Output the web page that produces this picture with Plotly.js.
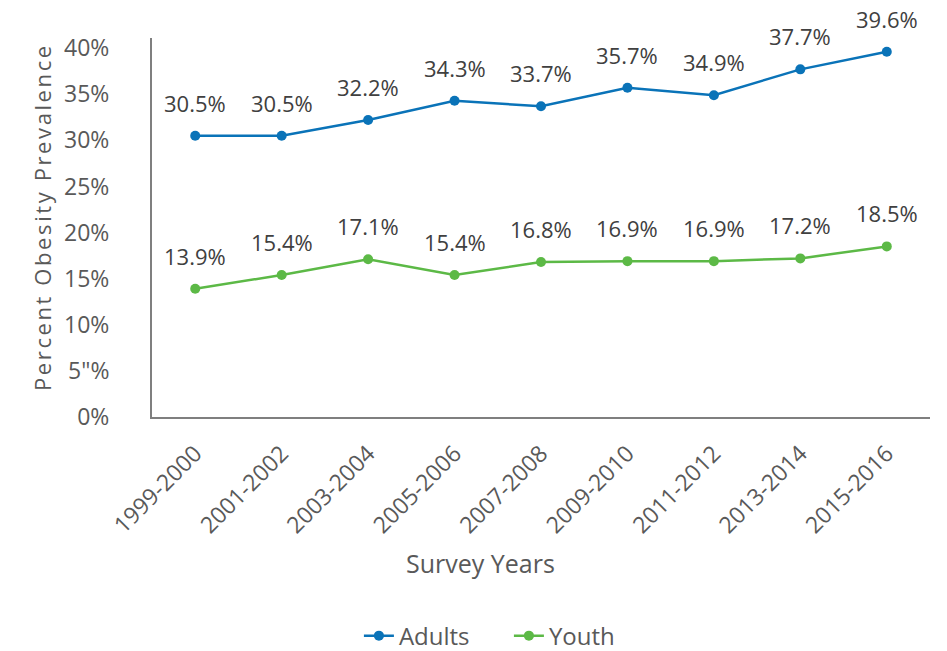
<!DOCTYPE html>
<html>
<head>
<meta charset="utf-8">
<script src="https://cdn.plot.ly/plotly-3.0.1.min.js"></script>
<style>html,body{margin:0;padding:0;background:#fff;}#chart{width:947px;height:651px;}</style>
</head>
<body>
<div id="chart"></div>
<script>
const categories = ["1999-2000","2001-2002","2003-2004","2005-2006","2007-2008","2009-2010","2011-2012","2013-2014","2015-2016"];
const adults = [30.5, 30.5, 32.2, 34.3, 33.7, 35.7, 34.9, 37.7, 39.6];
const youth = [13.9, 15.4, 17.1, 15.4, 16.8, 16.9, 16.9, 17.2, 18.5];
const yTickVals = [0, 5, 10, 15, 20, 25, 30, 35, 40];
const yTickText = ["0%", "5\"%", "10%", "15%", "20%", "25%", "30%", "35%", "40%"];
const xTitle = "Survey Years";
const yTitle = "Percent Obesity Prevalence";

const FONT = "Open Sans, Liberation Sans, sans-serif";
const GRAY = "#595959";
const BLUE = "#0A73B8";
const GREEN = "#5CB946";

const traces = [
  {x: categories, y: adults, name: "Adults", type: "scatter", mode: "lines+markers",
   line: {color: BLUE, width: 2.5}, marker: {color: BLUE, size: 10}},
  {x: categories, y: youth, name: "Youth", type: "scatter", mode: "lines+markers",
   line: {color: GREEN, width: 2.5}, marker: {color: GREEN, size: 10}}
];

const annotations = [];
[adults, youth].forEach(arr => {
  arr.forEach((v, i) => {
    annotations.push({x: categories[i], y: v, xref: "x", yref: "y", text: v.toFixed(1) + "%",
      showarrow: false, yanchor: "bottom", yshift: 16, font: {family: FONT, size: 22, color: "#404040"}});
  });
});
annotations.push({text: xTitle, xref: "paper", yref: "paper", x: 0.4216, y: -0.385, yanchor: "middle",
  showarrow: false, font: {family: FONT, size: 25, color: GRAY}});
annotations.push({text: yTitle, xref: "paper", yref: "paper", x: -0.141, xanchor: "center", y: 0.528, yanchor: "middle",
  textangle: -90, showarrow: false, font: {family: FONT, size: 22, color: GRAY}});
const yTitleIndex = annotations.length - 1;

const layout = {
  width: 947, height: 651,
  margin: {l: 152, r: 17, t: 38, b: 234},
  paper_bgcolor: "#fff", plot_bgcolor: "#fff",
  font: {family: FONT, color: GRAY, size: 22},
  showlegend: true,
  legend: {orientation: "h", x: 0.379, xanchor: "left", xref: "container", y: 0.023, yanchor: "middle", yref: "container",
    entrywidth: 105, entrywidthmode: "pixels",
    font: {family: FONT, size: 24, color: GRAY}},
  xaxis: {type: "category", range: [-0.5, 8.5], showline: true, linecolor: "#7F7F7F", linewidth: 2,
    showgrid: false, zeroline: false, ticks: "", tickangle: -45, automargin: false,
    tickfont: {family: FONT, size: 23, color: GRAY}, ticklabelstandoff: 12},
  yaxis: {range: [0, 41.1], showline: true, linecolor: "#7F7F7F", linewidth: 2, showgrid: false,
    zeroline: false, ticks: "", tickvals: yTickVals, ticktext: yTickText, automargin: false,
    tickfont: {family: FONT, size: 23, color: GRAY}, ticklabelstandoff: 36},
  annotations: annotations
};

const st = document.createElement("style");
st.textContent = 'g.annotation[data-index="' + yTitleIndex + '"] text{letter-spacing:2.6px;}';
document.head.appendChild(st);

Plotly.newPlot("chart", traces, layout, {displayModeBar: false, staticPlot: true});
</script>
</body>
</html>
